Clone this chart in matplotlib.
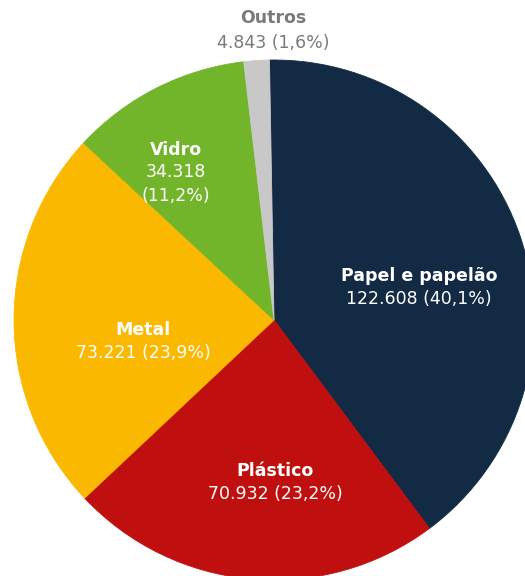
import matplotlib
matplotlib.use('Agg')
import matplotlib.pyplot as plt

# dados (toneladas)
categorias = ["Papel e papelão", "Plástico", "Metal", "Vidro", "Outros"]
valores = [122608, 70932, 73221, 34318, 4843]
textos_valor = ["122.608 (40,1%)", "70.932 (23,2%)", "73.221 (23,9%)", "34.318\n(11,2%)", "4.843 (1,6%)"]
cores = ["#132a45", "#c00f0f", "#fbb800", "#72b52b", "#c8c8c8"]

plt.rcParams['font.family'] = ['DejaVu Sans']

W, H = 525, 576
fig = plt.figure(figsize=(W / 100, H / 100), dpi=100)
ax = fig.add_axes([0, 0, 1, 1])
ax.axis('off')

cx, cy, r = 274, H - 320, 260
wedges, _ = ax.pie(valores, colors=cores, startangle=91, counterclock=False,
                   center=(cx, cy), radius=r, wedgeprops=dict(linewidth=0.6))
for w in wedges:
    w.set_edgecolor(w.get_facecolor())  # evita fresta branca entre fatias
ax.set_xlim(0, W)
ax.set_ylim(0, H)
ax.set_aspect('equal')

# posições dos rótulos (px, a partir do topo)
pos_rotulos = [(419, 276), (275, 471), (143, 330), (176, 150), (273, 18)]
for nome, txt, (px, py) in zip(categorias, textos_valor, pos_rotulos):
    c = "#7a7a7a" if nome == "Outros" else "white"
    ax.text(px, H - py, nome, ha='center', va='center', color=c,
            fontsize=12.5, fontweight='bold')
    dy = 25 if nome == "Outros" else 23
    if '\n' in txt:
        ax.text(px, H - py - dy + 10, txt, ha='center', va='top', color=c,
                fontsize=12.5, linespacing=1.4)
    else:
        ax.text(px, H - py - dy, txt, ha='center', va='center', color=c,
                fontsize=12.5)

fig.savefig("out.png", dpi=100)
